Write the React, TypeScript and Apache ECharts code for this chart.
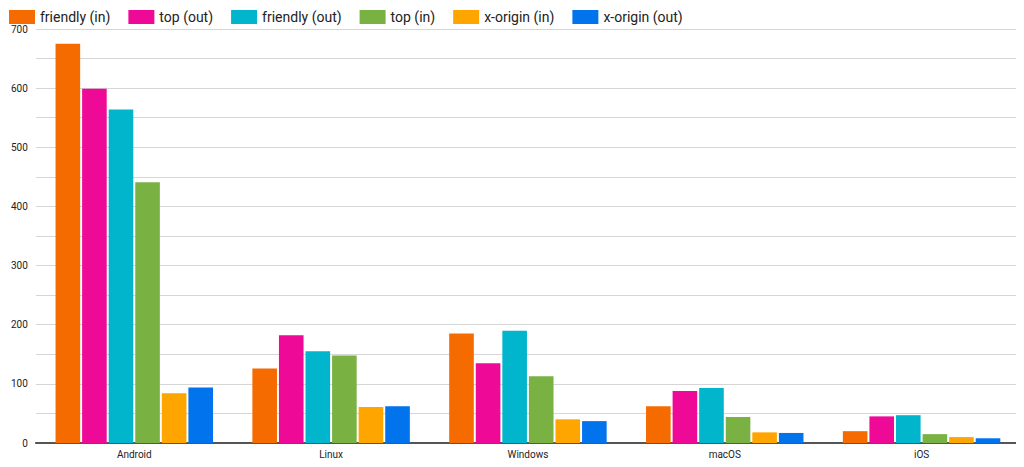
import { useEffect, useRef } from 'react'
import * as echarts from 'echarts'

const categories = ['Android', 'Linux', 'Windows', 'macOS', 'iOS']
const seriesNames = ['friendly (in)', 'top (out)', 'friendly (out)', 'top (in)', 'x-origin (in)', 'x-origin (out)']
const colors = ['#f66b00', '#ee0a97', '#00b5cc', '#79b243', '#ffa500', '#0073ed']
const friendlyIn = [675, 126, 185, 62, 20]
const topOut = [599, 182, 135, 88, 45]
const friendlyOut = [564, 155, 190, 93, 47]
const topIn = [441, 148, 113, 44, 15]
const xOriginIn = [84, 61, 40, 18, 10]
const xOriginOut = [94, 62, 37, 17, 8]
const values = [friendlyIn, topOut, friendlyOut, topIn, xOriginIn, xOriginOut]

export default function App() {
  const ref = useRef<HTMLDivElement>(null)

  useEffect(() => {
    if (!ref.current) return
    const chart = echarts.init(ref.current, undefined, { renderer: 'svg' })
    chart.setOption({
      animation: false,
      textStyle: { fontFamily: 'Roboto' },
      legend: {
        top: -3,
        left: -4,
        itemWidth: 26,
        itemHeight: 14,
        itemGap: 18,
        icon: 'rect',
        textStyle: { fontSize: 14, color: '#222' },
      },
      grid: { left: 22, right: 4, top: 21, bottom: 14, containLabel: false },
      xAxis: {
        type: 'category',
        data: categories,
        axisTick: { show: false },
        axisLine: { lineStyle: { color: '#555', width: 2 } },
        axisLabel: { fontSize: 10, color: '#222', margin: 6 },
      },
      yAxis: {
        type: 'value',
        min: 0,
        max: 700,
        interval: 50,
        axisLabel: {
          fontSize: 10,
          color: '#222',
          margin: 8,
          formatter: (v: number) => (v % 100 === 0 ? String(v) : ''),
        },
        splitLine: { lineStyle: { color: '#d6d6d6' } },
      },
      series: seriesNames.map((name, i) => ({
        name,
        type: 'bar',
        data: values[i],
        barGap: '8%',
        barCategoryGap: '20%',
        itemStyle: { color: colors[i] },
      })),
    })
    return () => chart.dispose()
  }, [])

  return <div ref={ref} style={{ width: 1016, height: 451 }} />
}
